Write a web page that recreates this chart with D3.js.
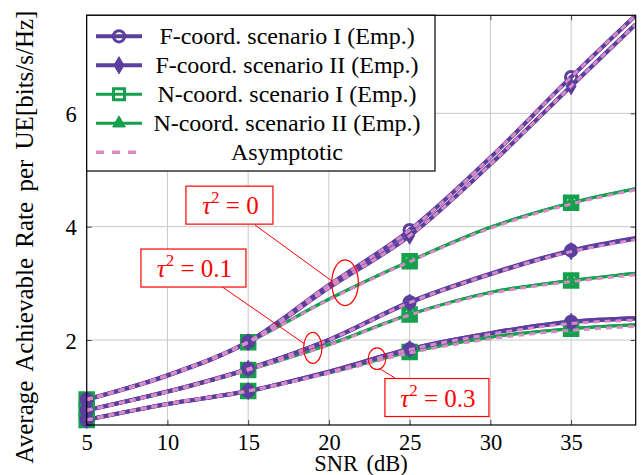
<!DOCTYPE html>
<html><head><meta charset="utf-8">
<script src="https://cdn.jsdelivr.net/npm/d3@7"></script>
<style>
html,body{margin:0;padding:0;background:#fff;}
</style></head>
<body><svg id="chart" width="644" height="475"></svg>
<script>
// ---------- data ----------
const snr = [5, 10, 15, 20, 25, 30, 35, 39];
const markerSnr = [5, 15, 25, 35];
const xTicks = [5, 10, 15, 20, 25, 30, 35];
const yTicks = [2, 4, 6];

// tau^2 = 0
const fI_t0   = [0.95, 1.38, 1.97, 2.97, 3.94, 5.22, 6.64, 7.73];
const fII_t0  = [0.95, 1.37, 1.96, 2.92, 3.84, 5.10, 6.48, 7.57];
const nI_t0   = [0.95, 1.37, 1.96, 2.72, 3.39, 3.99, 4.42, 4.67];
const nII_t0  = [0.95, 1.37, 1.96, 2.72, 3.39, 3.99, 4.42, 4.67];
// tau^2 = 0.1
const fI_t1   = [0.76, 1.09, 1.49, 2.00, 2.67, 3.17, 3.58, 3.80];
const fII_t1  = [0.76, 1.09, 1.49, 2.00, 2.66, 3.16, 3.57, 3.79];
const nI_t1   = [0.76, 1.08, 1.47, 1.92, 2.45, 2.84, 3.05, 3.18];
const nII_t1  = [0.76, 1.08, 1.47, 1.92, 2.45, 2.84, 3.05, 3.18];
// tau^2 = 0.3
const fI_t3   = [0.59, 0.87, 1.10, 1.44, 1.84, 2.12, 2.32, 2.38];
const fII_t3  = [0.59, 0.87, 1.10, 1.44, 1.84, 2.12, 2.32, 2.38];
const nI_t3   = [0.59, 0.87, 1.10, 1.42, 1.79, 2.05, 2.20, 2.27];
const nII_t3  = [0.59, 0.87, 1.10, 1.42, 1.79, 2.05, 2.20, 2.27];
// asymptotic
const asF_t0a = [0.95, 1.38, 1.97, 2.97, 3.94, 5.22, 6.64, 7.73];
const asF_t0b = [0.95, 1.37, 1.96, 2.92, 3.84, 5.10, 6.48, 7.57];
const asN_t0  = [0.95, 1.37, 1.96, 2.71, 3.38, 3.97, 4.40, 4.65];
const asF_t1  = [0.76, 1.09, 1.49, 2.00, 2.66, 3.16, 3.56, 3.77];
const asN_t1  = [0.76, 1.08, 1.47, 1.91, 2.44, 2.82, 3.03, 3.15];
const asF_t3  = [0.59, 0.87, 1.10, 1.43, 1.83, 2.10, 2.29, 2.35];
const asN_t3  = [0.59, 0.87, 1.10, 1.41, 1.77, 2.02, 2.17, 2.24];

const legendLabels = ["F-coord. scenario I (Emp.)", "F-coord. scenario II (Emp.)",
  "N-coord. scenario I (Emp.)", "N-coord. scenario II (Emp.)", "Asymptotic"];

// annotations: label, ellipse centre (snr, rate), box centre (snr, rate), leader from/to
const annLabels = ["0", "0.1", "0.3"];
const annEllipse = [[21.0, 3.01], [19.0, 1.86], [22.98, 1.67]];
const annBox = [[13.84, 4.38], [11.61, 3.27], [26.69, 0.985]];
const annFrom = [[15.42, 4.03], [13.38, 2.94], [24.09, 1.33]];
const annTo = [[20.19, 3.04], [18.5, 1.93], [23.16, 1.49]];

// ---------- styles ----------
const FONT = "'Liberation Serif', 'Times New Roman', serif";
const PURPLE = "#5b3f9f", GREEN = "#15a04d", PINK = "#d98ac6";
const W = 644, H = 475;
const m = {left: 86.7, right: 635.7, top: 15.3, bottom: 425};

const svg = d3.select("#chart");
svg.append("rect").attr("width", W).attr("height", H).attr("fill", "#fff");

const x = d3.scaleLinear().domain([5, 39]).range([m.left, m.right]);
const y = d3.scaleLinear().domain([0.5, 7.73]).range([m.bottom, m.top]);

// grid
const g = svg.append("g");
g.selectAll(".gx").data(xTicks).join("line")
  .attr("x1", d => x(d)).attr("x2", d => x(d)).attr("y1", m.top).attr("y2", m.bottom)
  .attr("stroke", "#c8c8c8").attr("stroke-width", 1);
g.selectAll(".gy").data(yTicks).join("line")
  .attr("y1", d => y(d)).attr("y2", d => y(d)).attr("x1", m.left).attr("x2", m.right)
  .attr("stroke", "#c8c8c8").attr("stroke-width", 1);

// axes (ticks inward)
const axB = svg.append("g").attr("transform", `translate(0,${m.bottom})`)
  .call(d3.axisBottom(x).tickValues(xTicks).tickSize(-5).tickPadding(9.5));
const axL = svg.append("g").attr("transform", `translate(${m.left},0)`)
  .call(d3.axisLeft(y).tickValues(yTicks).tickSize(-5).tickPadding(10));
const axT = svg.append("g").attr("transform", `translate(0,${m.top})`)
  .call(d3.axisTop(x).tickValues(xTicks).tickSize(-5).tickFormat(""));
const axR = svg.append("g").attr("transform", `translate(${m.right},0)`)
  .call(d3.axisRight(y).tickValues(yTicks).tickSize(-5).tickFormat(""));
[axB, axL, axT, axR].forEach(a => {
  a.select(".domain").remove();
  a.selectAll(".tick line").attr("stroke", "#444").attr("stroke-width", 1);
  a.selectAll("text").style("font-size", "22.5px").style("font-family", FONT).attr("fill", "#000");
});
axL.selectAll("text").attr("dy", "0.36em");

// clip
svg.append("clipPath").attr("id", "clip").append("rect")
  .attr("x", m.left).attr("y", m.top).attr("width", m.right - m.left).attr("height", m.bottom - m.top);

const line = d3.line().x((d, i) => x(snr[i])).y(d => y(d)).curve(d3.curveMonotoneX);
const plot = svg.append("g").attr("clip-path", "url(#clip)");
const marks = svg.append("g");

const fSeries = [fI_t0, fII_t0, fI_t1, fII_t1, fI_t3, fII_t3];
const nSeries = [nI_t0, nII_t0, nI_t1, nII_t1, nI_t3, nII_t3];
const asSeries = [asF_t0a, asF_t0b, asN_t0, asF_t1, asN_t1, asF_t3, asN_t3];

nSeries.forEach(s => plot.append("path").attr("d", line(s)).attr("fill", "none")
  .attr("stroke", GREEN).attr("stroke-width", 3));
fSeries.forEach(s => plot.append("path").attr("d", line(s)).attr("fill", "none")
  .attr("stroke", PURPLE).attr("stroke-width", 4.2));

function valAt(s, v) { return s[snr.indexOf(v)]; }

const circleSym = d3.symbol().type(d3.symbolCircle).size(100);
const diamondSym = d3.symbol().type(d3.symbolDiamond).size(85);
const squareSym = d3.symbol().type(d3.symbolSquare).size(144);
const triSym = d3.symbol().type(d3.symbolTriangle).size(70);
const legSquare = d3.symbol().type(d3.symbolSquare).size(120);

function drawMarkers(series, sym, color, filled, sw) {
  series.forEach(s => markerSnr.forEach(v => {
    marks.append("path").attr("d", sym())
      .attr("transform", `translate(${x(v)},${y(valAt(s, v))})`)
      .attr("fill", filled ? color : "none").attr("stroke", color).attr("stroke-width", sw);
  }));
}
drawMarkers([nI_t0, nI_t1, nI_t3], squareSym, GREEN, false, 4.5);
drawMarkers([nII_t0, nII_t1, nII_t3], triSym, GREEN, true, 1);
drawMarkers([fI_t0, fI_t1, fI_t3], circleSym, PURPLE, false, 3);
drawMarkers([fII_t0, fII_t1, fII_t3], diamondSym, PURPLE, true, 1);

const asG = svg.append("g").attr("clip-path", "url(#clip)");
asSeries.forEach(s => asG.append("path").attr("d", line(s)).attr("fill", "none")
  .attr("stroke", PINK).attr("stroke-width", 3).attr("stroke-dasharray", "6,5"));

// frame
svg.append("rect").attr("x", m.left).attr("y", m.top).attr("width", m.right - m.left)
  .attr("height", m.bottom - m.top).attr("fill", "none").attr("stroke", "#000").attr("stroke-width", 1.2);

// annotations
const RED = "#ff0000";
const ellR = [[13.3, 22.8], [9.2, 15.5], [8.8, 10.8]];
const boxW = [87, 105, 104], boxH = 38;
annLabels.forEach((lab, i) => {
  svg.append("line")
    .attr("x1", x(annFrom[i][0])).attr("y1", y(annFrom[i][1]))
    .attr("x2", x(annTo[i][0])).attr("y2", y(annTo[i][1]))
    .attr("stroke", RED).attr("stroke-width", 1);
  svg.append("ellipse").attr("cx", x(annEllipse[i][0])).attr("cy", y(annEllipse[i][1]))
    .attr("rx", ellR[i][0]).attr("ry", ellR[i][1]).attr("fill", "none").attr("stroke", RED).attr("stroke-width", 1.2);
  const bx = x(annBox[i][0]), by = y(annBox[i][1]);
  svg.append("rect").attr("x", bx - boxW[i] / 2).attr("y", by - boxH / 2)
    .attr("width", boxW[i]).attr("height", boxH).attr("fill", "#fff").attr("stroke", RED).attr("stroke-width", 1.2);
  const t = svg.append("text").attr("x", bx + 1).attr("y", by + 9).attr("text-anchor", "middle")
    .attr("fill", RED).style("font-family", FONT).style("font-size", "25px");
  t.append("tspan").attr("font-style", "italic").text("τ");
  t.append("tspan").style("font-size", "17px").attr("dy", -11).text("2");
  t.append("tspan").attr("dy", 11).text(" = " + lab);
});

// legend
const L = {x: 86.7, y: 15.3, w: 348.3, h: 155.7};
const leg = svg.append("g");
leg.append("rect").attr("x", L.x).attr("y", L.y).attr("width", L.w).attr("height", L.h)
  .attr("fill", "#fff").attr("stroke", "#000").attr("stroke-width", 1.2);
const rowY = i => L.y + 21 + i * 29;
const legStyles = [
  {c: PURPLE, sym: circleSym, filled: false, sw: 3, lw: 4},
  {c: PURPLE, sym: diamondSym, filled: true, sw: 1, lw: 4},
  {c: GREEN, sym: legSquare, filled: false, sw: 3, lw: 3},
  {c: GREEN, sym: triSym, filled: true, sw: 1, lw: 3},
  {c: PINK, sym: null, dash: "8,8", lw: 3.5}
];
legendLabels.forEach((lab, i) => {
  const st = legStyles[i], cy = rowY(i);
  leg.append("line").attr("x1", 96).attr("x2", st.sym ? 142 : 137).attr("y1", cy).attr("y2", cy)
    .attr("stroke", st.c).attr("stroke-width", st.lw).attr("stroke-dasharray", st.dash || null);
  if (st.sym) leg.append("path").attr("d", st.sym()).attr("transform", `translate(119,${cy})`)
    .attr("fill", st.filled ? st.c : "none").attr("stroke", st.c).attr("stroke-width", st.sw);
  leg.append("text").attr("x", 287).attr("y", cy + 8).attr("text-anchor", "middle")
    .style("font-family", FONT).style("font-size", "24px").attr("fill", "#000").text(lab);
});

// axis titles
svg.append("text").attr("x", 361).attr("y", 471).attr("text-anchor", "middle")
  .style("font-family", FONT).style("font-size", "22.5px").style("word-spacing", "3px")
  .attr("fill", "#000").text("SNR (dB)");
svg.append("text").attr("transform", "translate(33,237) rotate(-90)").attr("text-anchor", "middle")
  .style("font-family", FONT).style("font-size", "25px").style("word-spacing", "4px")
  .attr("fill", "#000").text("Average Achievable Rate per UE[bits/s/Hz]");
</script></body></html>
